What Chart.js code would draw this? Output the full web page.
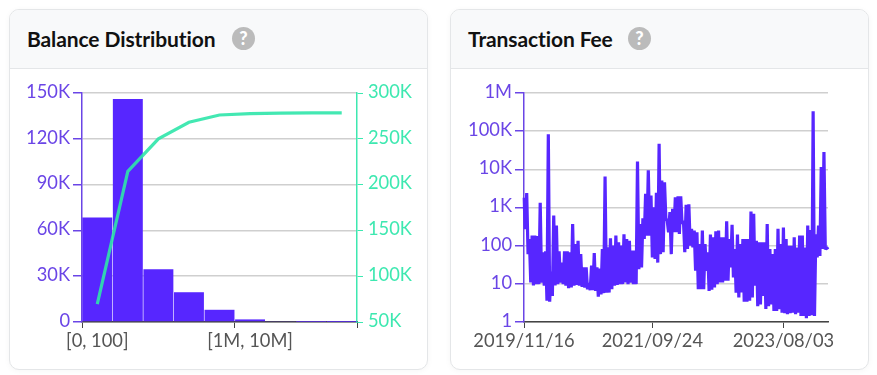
<!DOCTYPE html>
<html>
<head>
<meta charset="utf-8">
<script src="https://cdn.jsdelivr.net/npm/chart.js@4"></script>
<style>
  html, body { margin: 0; padding: 0; background: #fff; }
  body { width: 877px; height: 375px; position: relative; overflow: hidden; font-family: Lato, sans-serif; }
  .card { position: absolute; top: 9px; width: 417px; height: 359px; border: 1px solid #e4e6e8; border-radius: 10px; background: #fff; box-shadow: 0 1px 6px rgba(0,0,0,.04); overflow: hidden; }
  .head { height: 58px; background: #f8f9fa; border-bottom: 1px solid #e4e6e8; position: relative; }
  .title { position: absolute; left: 17px; top: 15px; font-size: 21px; font-weight: 700; line-height: 28px; color: #111; letter-spacing: -.1px; white-space: nowrap; }
  .help { position: absolute; top: 17px; width: 23px; height: 23px; border-radius: 50%; background: #bbb; color: #fff; font-size: 18px; font-weight: 900; line-height: 23px; text-align: center; }
  canvas { position: absolute; left: 0; top: 59px; }
</style>
</head>
<body>
<div class="card" style="left:9px">
  <div class="head"><div class="title">Balance Distribution</div><div class="help" style="left:222px">?</div></div>
  <canvas id="balance" width="417" height="300"></canvas>
</div>
<div class="card" style="left:450px">
  <div class="head"><div class="title">Transaction Fee</div><div class="help" style="left:177px">?</div></div>
  <canvas id="fee" width="417" height="300"></canvas>
</div>
<script>
const balanceBuckets = ['[0, 100]', '[100, 1K]', '[1K, 10K]', '[10K, 100K]', '[100K, 1M]', '[1M, 10M]', '[10M, 100M]', '[100M, 1B]', '[1B, 10B]'];
const balanceCounts = [68500, 146000, 34500, 19500, 8000, 1700, 600, 60, 10];
const balanceTotals = [69500, 214500, 250000, 268000, 276000, 277500, 278000, 278200, 278200];
const balanceTickEvery = 5;

// top and bottom of the fee band
const feeHigh = [1800, 2400, 150, 183, 183, 180, 1320, 67, 71, 83000, 21, 615, 335, 71, 36, 71, 71, 67, 370, 110,
  135, 60, 27, 27, 10.5, 30, 64, 27, 25, 82, 6500, 90, 156, 100, 183, 122, 100, 200, 150, 135,
  74, 74, 16000, 370, 525, 2290, 9400, 2050, 1020, 2430, 47000, 5100, 4600, 455, 755, 925, 1850, 1970, 1970, 455,
  1170, 1220, 275, 248, 225, 110, 248, 110, 67, 195, 165, 237, 248, 165, 165, 435, 150, 350, 82, 195,
  110, 150, 150, 150, 785, 680, 135, 122, 122, 122, 370, 82, 60, 82, 275, 110, 300, 150, 100, 100,
  165, 90, 183, 183, 90, 335, 258, 330000, 200, 335, 11500, 28500, 90];
const feeLow = [270, 60, 10.8, 9, 9.8, 9.8, 10.8, 9, 3.6, 3.4, 4.8, 9, 9.8, 10.8, 9.8, 9, 7.7, 8, 8.9, 9.4,
  8.9, 8.3, 8, 7.2, 6.8, 6.8, 6.5, 4.6, 5.3, 5.7, 5.9, 5.9, 7.2, 8.9, 9.4, 9.8, 9.8, 10.8, 9.8, 10.8,
  9.8, 9.8, 24, 27, 150, 183, 183, 49, 45, 36, 60, 67, 505, 225, 60, 225, 225, 202, 370, 67,
  82, 100, 90, 22, 7.2, 7.2, 7.2, 22, 6.5, 7, 8, 9.8, 10.8, 10.8, 12, 12, 27, 14.7, 5.9, 4.4,
  5.9, 3.4, 3.4, 3.6, 4.4, 8.9, 2.6, 2.9, 4.8, 2.2, 2.6, 2.9, 1.95, 1.95, 2.15, 1.76, 1.7, 1.6, 1.7, 1.76,
  1.6, 1.76, 1.44, 1.44, 1.25, 1.44, 1.5, 1.44, 49, 54, 82, 80, 80];
const feeDates = { 0: '2019/11/16', 95: '2021/09/24', 192: '2023/08/03' };
const feeTicks = [1, 10, 100, 1000, 10000, 100000, 1000000];

const PURPLE = '#5726ff';
const PURPLE_TEXT = '#6a45e6';
const GREEN = '#3de8b0';
const GRID = '#cfcfcf';
const AXIS = '#444';
const TEXT = '#555';
const FONT = { family: 'Lato', size: 18.3 };

function shortNum(v) {
  if (v >= 1000000) return v / 1000000 + 'M';
  if (v >= 1000) return v / 1000 + 'K';
  return String(v);
}

function fixWidth(w) {
  return scale => { scale.width = w; };
}
function fixHeight(h) {
  return scale => { scale.height = h; };
}

new Chart(document.getElementById('balance'), {
  data: {
    labels: balanceBuckets,
    datasets: [
      { type: 'line', data: balanceTotals, yAxisID: 'y2', order: 1, borderColor: 'rgba(47,230,170,.9)', borderWidth: 3.2, pointRadius: 0, tension: 0 },
      { type: 'bar', data: balanceCounts, yAxisID: 'y', order: 2, backgroundColor: PURPLE, barPercentage: 1, categoryPercentage: 0.98 }
    ]
  },
  options: {
    responsive: false,
    animation: false,
    layout: { padding: { top: 24 } },
    plugins: { legend: { display: false }, tooltip: { enabled: false } },
    scales: {
      x: {
        afterFit: fixHeight(47),
        border: { color: AXIS, width: 1.5 },
        grid: {
          offset: true,
          drawOnChartArea: false,
          tickLength: 6,
          tickColor: ctx => (ctx.index === undefined || ctx.index % balanceTickEvery === 0) ? AXIS : 'transparent'
        },
        ticks: {
          autoSkip: false,
          maxRotation: 0,
          padding: 2,
          color: TEXT,
          font: FONT,
          callback(value, i) { return i % balanceTickEvery === 0 ? this.getLabelForValue(value) : ''; }
        }
      },
      y: {
        position: 'left',
        min: 0,
        max: 150000,
        afterFit: fixWidth(72),
        border: { color: PURPLE_TEXT, width: 1.5 },
        grid: { color: GRID, lineWidth: 1.5, tickColor: PURPLE_TEXT, tickLength: 9 },
        ticks: { stepSize: 30000, padding: 3, labelOffset: -1, color: PURPLE_TEXT, font: FONT, callback: shortNum }
      },
      y2: {
        position: 'right',
        min: 50000,
        max: 300000,
        afterFit: fixWidth(70),
        border: { color: GREEN, width: 1.5 },
        grid: { drawOnChartArea: false, tickColor: GREEN, tickLength: 6 },
        ticks: { stepSize: 50000, padding: 5, labelOffset: -1, color: GREEN, font: FONT, callback: shortNum }
      }
    }
  }
});

const feeValues = feeHigh.flatMap((v, i) => [v, feeLow[i]]);
const feeLabels = feeValues.map((v, i) => feeDates[i] || '');

new Chart(document.getElementById('fee'), {
  type: 'line',
  data: {
    labels: feeLabels,
    datasets: [{ data: feeValues, borderColor: PURPLE, borderWidth: 3.2, borderJoinStyle: 'bevel', pointRadius: 0, tension: 0 }]
  },
  options: {
    responsive: false,
    animation: false,
    layout: { padding: { top: 24, right: 40 } },
    plugins: { legend: { display: false }, tooltip: { enabled: false } },
    scales: {
      x: {
        afterFit: fixHeight(47),
        border: { color: AXIS, width: 1.5 },
        grid: {
          drawOnChartArea: false,
          tickLength: 6,
          tickColor: ctx => feeLabels[ctx.index] ? AXIS : 'transparent'
        },
        ticks: { autoSkip: false, maxRotation: 0, padding: 2, color: TEXT, font: FONT, align: 'center' }
      },
      y: {
        type: 'logarithmic',
        min: 1,
        max: 1000000,
        afterFit: fixWidth(73),
        afterBuildTicks: scale => { scale.ticks = feeTicks.map(v => ({ value: v })); },
        border: { color: PURPLE_TEXT, width: 1.5 },
        grid: { color: GRID, lineWidth: 1.5, tickColor: PURPLE_TEXT, tickLength: 9 },
        ticks: { padding: 3, labelOffset: -1, color: PURPLE_TEXT, font: FONT, callback: shortNum }
      }
    }
  }
});
</script>
</body>
</html>
